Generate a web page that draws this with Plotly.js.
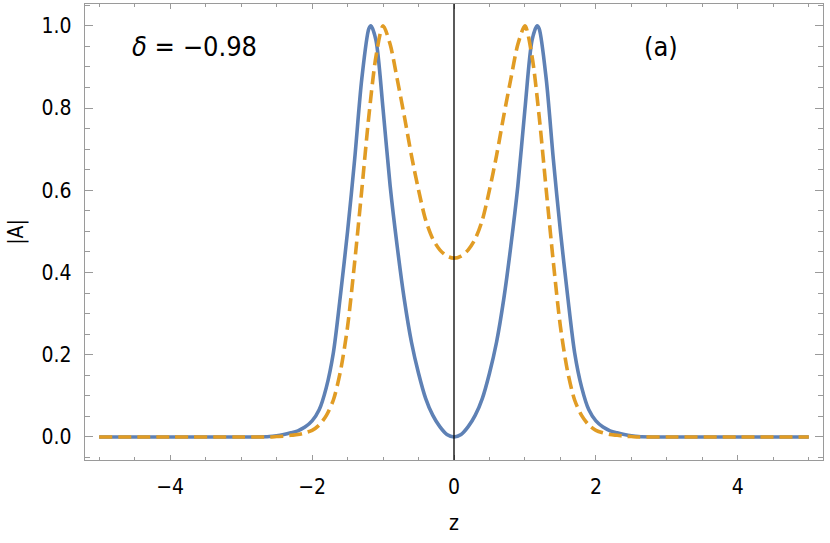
<!DOCTYPE html>
<html>
<head>
<meta charset="utf-8">
<script src="https://cdn.plot.ly/plotly-3.0.1.min.js"></script>
<style>html,body{margin:0;padding:0;background:#fff;}#chart{width:830px;height:543px;}</style>
</head>
<body>
<div id="chart"></div>
<script>
// Solid blue curve |A| (left half, right half mirrored)
const zBlueLeft = [-5, -4, -3, -2.8, -2.6, -2.5, -2.4, -2.3, -2.2, -2.1, -2.0, -1.9, -1.8, -1.7, -1.6, -1.5, -1.4, -1.3, -1.2, -1.17, -1.1, -1.0, -0.9, -0.8, -0.7, -0.6, -0.5, -0.4, -0.3, -0.2, -0.1, 0];
const aBlueLeft = [0, 0, 0, 0, 0.001, 0.003, 0.006, 0.010, 0.015, 0.024, 0.039, 0.066, 0.120, 0.205, 0.345, 0.500, 0.675, 0.870, 0.993, 1.0, 0.965, 0.798, 0.611, 0.463, 0.334, 0.231, 0.155, 0.094, 0.053, 0.025, 0.006, 0];
// Dashed orange curve |A|
const zOrangeLeft = [-5, -4, -3, -2.6, -2.5, -2.4, -2.3, -2.2, -2.1, -2.0, -1.9, -1.8, -1.7, -1.6, -1.5, -1.4, -1.3, -1.2, -1.1, -1.0, -0.9, -0.8, -0.7, -0.6, -0.5, -0.4, -0.3, -0.2, -0.1, 0];
const aOrangeLeft = [0, 0, 0, 0, 0.001, 0.002, 0.004, 0.006, 0.010, 0.016, 0.029, 0.052, 0.090, 0.160, 0.268, 0.425, 0.600, 0.780, 0.925, 1.0, 0.955, 0.870, 0.780, 0.685, 0.601, 0.528, 0.482, 0.455, 0.440, 0.435];

const xTickVals = [-4, -2, 0, 2, 4];
const yTickVals = [0, 0.2, 0.4, 0.6, 0.8, 1.0];
const yTickText = ['0.0', '0.2', '0.4', '0.6', '0.8', '1.0'];
const deltaLabel = '<i>δ</i> = −0.98';
const panelLabel = '(a)';

function mirror(zs, as) {
  const z = zs.slice(), a = as.slice();
  for (let i = zs.length - 2; i >= 0; i--) { z.push(-zs[i]); a.push(as[i]); }
  return {z, a};
}
const blue = mirror(zBlueLeft, aBlueLeft);
const orange = mirror(zOrangeLeft, aOrangeLeft);

const FONT = "'Liberation Sans Narrow', 'DejaVu Sans Condensed', 'Liberation Sans', Arial, sans-serif";
const frameColor = '#9a9a9a';

const traces = [
  {x: blue.z, y: blue.a, type: 'scatter', mode: 'lines',
   line: {color: '#5E81B5', width: 3.6, shape: 'spline', smoothing: 0.8}, hoverinfo: 'skip'},
  {x: orange.z, y: orange.a, type: 'scatter', mode: 'lines',
   line: {color: '#E19C24', width: 3.6, dash: '13px,6px', shape: 'spline', smoothing: 0.8}, hoverinfo: 'skip'}
];

const layout = {
  width: 830, height: 543,
  margin: {l: 85, r: 7, t: 4, b: 83},
  paper_bgcolor: '#fff', plot_bgcolor: '#fff',
  showlegend: false,
  font: {family: FONT, size: 21, color: '#000'},
  xaxis: {
    range: [-5.2, 5.2], tickvals: xTickVals, ticks: 'inside', ticklen: 5, tickwidth: 1, tickcolor: frameColor,
    minor: {dtick: 0.5, tick0: 0, ticks: 'inside', ticklen: 3, tickwidth: 1, tickcolor: frameColor},
    showline: true, linecolor: frameColor, linewidth: 1.2, mirror: 'ticks',
    showgrid: false, zeroline: false, ticklabelstandoff: 8,
    tickfont: {family: FONT, size: 21, color: '#000'},
    title: {text: 'z', font: {family: FONT, size: 21, color: '#000'}, standoff: 16}
  },
  yaxis: {
    range: [-0.056, 1.053], tickvals: yTickVals, ticktext: yTickText, ticks: 'inside', ticklen: 8, tickwidth: 1, tickcolor: frameColor,
    minor: {dtick: 0.05, tick0: 0, ticks: 'inside', ticklen: 5, tickwidth: 1, tickcolor: frameColor},
    showline: true, linecolor: frameColor, linewidth: 1.2, mirror: 'ticks',
    showgrid: false, zeroline: false, ticklabelstandoff: 8,
    tickfont: {family: FONT, size: 21, color: '#000'},
    title: {text: '|A|', font: {family: FONT, size: 21, color: '#000'}, standoff: 12}
  },
  shapes: [
    {type: 'line', xref: 'x', yref: 'paper', x0: 0, x1: 0, y0: 0, y1: 1, layer: 'above',
     line: {color: '#000', width: 1.3}}
  ],
  annotations: [
    {text: deltaLabel, xref: 'x', yref: 'y', x: -3.65, y: 0.95, showarrow: false,
     font: {family: FONT, size: 27, color: '#000'}},
    {text: panelLabel, xref: 'x', yref: 'y', x: 2.92, y: 0.95, showarrow: false,
     font: {family: FONT, size: 27, color: '#000'}}
  ]
};

Plotly.newPlot('chart', traces, layout, {staticPlot: true, displayModeBar: false});
</script>
</body>
</html>
